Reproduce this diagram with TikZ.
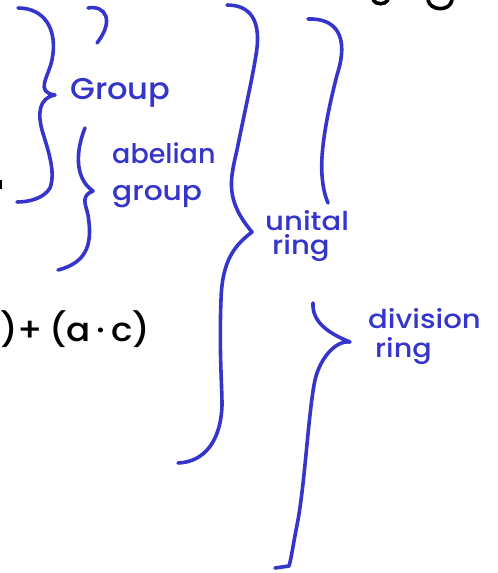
\documentclass[tikz,border=0pt]{standalone}
\usepackage{fontspec}
\setmainfont{Poppins}[BoldFont={Poppins Medium}]
\definecolor{pen}{HTML}{3535CC}
\tikzset{
  brace/.style={draw=pen, line width=3.6pt, line cap=round, line join=round},
  ink/.style={draw=black, line width=3.6pt, line cap=round},
  lbl/.style={text=pen, inner sep=0pt, anchor=base west, font=\bfseries},
}
\begin{document}
\begin{tikzpicture}[x=1pt,y=-1pt]
\useasboundingbox (0,0) rectangle (498,573);
% black fragments
\draw[ink] (373,0) .. controls (376,5) and (385,5) .. (388,0);
\draw[ink] (428,0) .. controls (430,11) and (450,12) .. (452,0);
\fill[black] (0,180) rectangle (2,189);
\node[inner sep=0pt, anchor=base west, text=black, font=\bfseries, xscale=1.08] (dist) at (0,341)
  {\fontsize{33}{33}\selectfont )+\,(a\,·\,c)};
% braces
\coordinate (tipA) at (55,95);
\draw[brace] (18,8) .. controls (45,8) and (58,30) .. (52,60)
  .. controls (48,78) and (35,92) .. (tipA)
  .. controls (38,98) and (38,115) .. (42,130)
  .. controls (48,150) and (56,172) .. (50,188)
  .. controls (44,198) and (30,202) .. (17,202);
\draw[brace] (88,8) .. controls (105,5) and (115,20) .. (97,43);
\coordinate (tipB) at (93,191);
\draw[brace] (85,128) .. controls (76,150) and (74,178) .. (tipB)
  .. controls (80,196) and (86,205) .. (88,215)
  .. controls (92,240) and (90,262) .. (58,270);
\coordinate (tipC) at (252,232);
\draw[brace] (227,5) .. controls (250,5) and (262,20) .. (256,55)
  .. controls (252,80) and (245,110) .. (237,150)
  .. controls (230,180) and (225,200) .. (tipC)
  .. controls (235,245) and (222,260) .. (221,300)
  .. controls (219,350) and (222,385) .. (222,405)
  .. controls (221,440) and (205,462) .. (178,463);
\draw[brace] (308,19) .. controls (335,18) and (350,35) .. (337,75)
  .. controls (328,110) and (320,150) .. (322,175)
  .. controls (323,190) and (326,198) .. (328,203);
\coordinate (tipE) at (350,342);
\draw[brace] (313,303) .. controls (312,320) and (325,332) .. (tipE)
  .. controls (335,340) and (318,360) .. (314,385)
  .. controls (308,420) and (305,480) .. (298,520)
  .. controls (293,545) and (291,560) .. (289,566) -- (275,568);
% labels
\node[lbl, xscale=1.07] (group) at (70,99) {\fontsize{30}{30}\selectfont Group};
\node[lbl] (abelian) at (112,163) {\fontsize{27}{27}\selectfont abelian};
\node[lbl, xscale=1.1] (agroup) at (112,200) {\fontsize{27}{27}\selectfont group};
\node[lbl, xscale=1.12] (unital) at (265,230) {\fontsize{26}{26}\selectfont unital};
\node[lbl, xscale=1.12] (uring) at (272,254) {\fontsize{26}{26}\selectfont ring};
\node[lbl, xscale=1.12] (division) at (368,328) {\fontsize{26}{26}\selectfont division};
\node[lbl, xscale=1.1] (dring) at (375,357) {\fontsize{26}{26}\selectfont ring};
\end{tikzpicture}
\end{document}
